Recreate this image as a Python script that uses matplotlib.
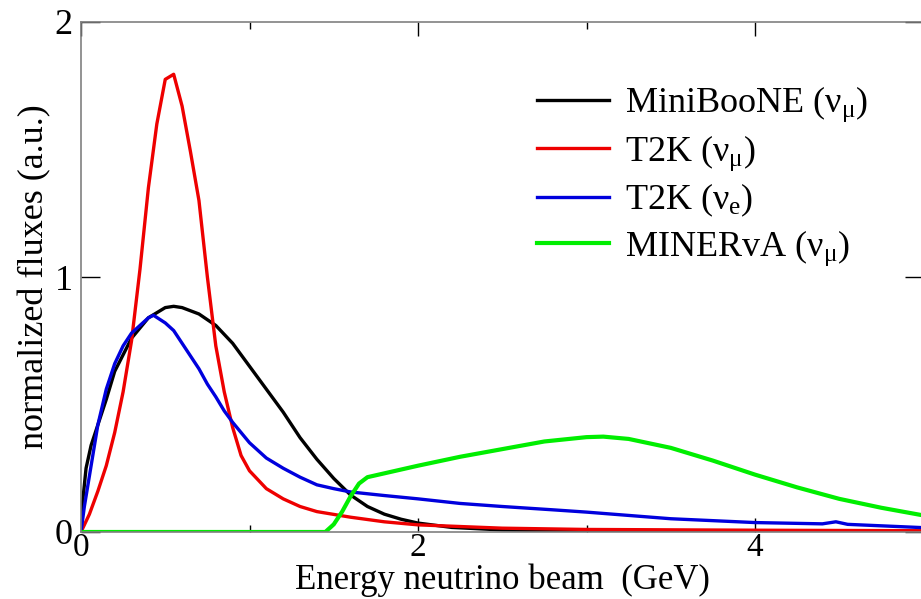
import matplotlib
matplotlib.use("Agg")
import matplotlib.pyplot as plt
from matplotlib.ticker import MultipleLocator

plt.rcParams['font.family'] = ['Liberation Serif', 'DejaVu Serif']
plt.rcParams['mathtext.fontset'] = 'custom'
plt.rcParams['mathtext.rm'] = 'Liberation Serif'
plt.rcParams['mathtext.it'] = 'Liberation Serif:italic'

# MiniBooNE (nu_mu)
mb_E = [0.0, 0.01, 0.03, 0.06, 0.1, 0.15, 0.2, 0.3, 0.4, 0.5, 0.55, 0.6, 0.7, 0.8, 0.9,
        1.0, 1.1, 1.2, 1.3, 1.4, 1.5, 1.6, 1.7, 1.8, 1.9, 2.0, 2.2, 2.5, 3.0, 4.0, 5.0]
mb_F = [0.0, 0.12, 0.25, 0.34, 0.42, 0.52, 0.63, 0.76, 0.84, 0.88, 0.885, 0.88, 0.855, 0.81, 0.74,
        0.65, 0.56, 0.47, 0.37, 0.285, 0.21, 0.145, 0.10, 0.07, 0.05, 0.035, 0.018, 0.008, 0.003, 0.001, 0.0]

# T2K (nu_mu)
t2m_E = [0.0, 0.05, 0.1, 0.15, 0.2, 0.25, 0.3, 0.35, 0.4, 0.45, 0.5, 0.55, 0.6, 0.65, 0.7,
         0.75, 0.8, 0.85, 0.9, 0.95, 1.0, 1.1, 1.2, 1.3, 1.4, 1.6, 1.8, 2.0, 2.5, 3.0, 4.0, 5.0]
t2m_F = [0.0, 0.07, 0.16, 0.26, 0.39, 0.55, 0.75, 1.03, 1.35, 1.60, 1.775, 1.795, 1.67, 1.49, 1.30,
         1.00, 0.73, 0.55, 0.41, 0.30, 0.24, 0.17, 0.13, 0.10, 0.08, 0.058, 0.04, 0.028, 0.015, 0.01, 0.007, 0.005]

# T2K (nu_e)
t2e_E = [0.0, 0.02, 0.05, 0.1, 0.15, 0.2, 0.25, 0.3, 0.35, 0.4, 0.43, 0.5, 0.55, 0.6, 0.65, 0.7,
         0.75, 0.8, 0.85, 0.9, 1.0, 1.1, 1.2, 1.3, 1.4, 1.5, 1.6, 1.8, 2.0, 2.25, 2.5, 2.8, 3.0,
         3.5, 4.0, 4.4, 4.48, 4.55, 5.0]
t2e_F = [0.0, 0.10, 0.22, 0.42, 0.56, 0.66, 0.73, 0.78, 0.81, 0.84, 0.85, 0.82, 0.79, 0.74, 0.69, 0.64,
         0.58, 0.53, 0.475, 0.43, 0.35, 0.29, 0.25, 0.215, 0.185, 0.17, 0.157, 0.143, 0.13, 0.112, 0.10, 0.087, 0.078,
         0.052, 0.037, 0.032, 0.04, 0.03, 0.017]

# MINERvA (nu_mu)
mv_E = [0.0, 1.45, 1.5, 1.55, 1.6, 1.65, 1.7, 1.8, 2.0, 2.25, 2.5, 2.75, 3.0, 3.1, 3.25,
        3.5, 3.75, 4.0, 4.25, 4.5, 4.75, 5.0]
mv_F = [0.0, 0.0, 0.03, 0.08, 0.14, 0.19, 0.215, 0.23, 0.26, 0.295, 0.325, 0.355, 0.372, 0.374, 0.365,
        0.33, 0.28, 0.225, 0.175, 0.13, 0.095, 0.065]

fig = plt.figure(figsize=(9.21, 5.99), dpi=100)
ax = fig.add_axes([81/921, 1 - 532/599, 842.5/921, 510/599])

ax.plot(mb_E, mb_F, color='black', lw=2.4, label=r'MiniBooNE ($\mathrm{\nu_{\mu}}$)')
ax.plot(t2m_E, t2m_F, color='#ee0000', lw=2.4, label=r'T2K ($\mathrm{\nu_{\mu}}$)')
ax.plot(t2e_E, t2e_F, color='#0000dd', lw=2.4, label=r'T2K ($\mathrm{\nu_{e}}$)')
ax.plot(mv_E, mv_F, color='#00ee00', lw=3.0, label=r'MINERvA ($\mathrm{\nu_{\mu}}$)')

ax.set_xlim(0, 5)
ax.set_ylim(0, 2)
ax.xaxis.set_major_locator(MultipleLocator(2))
ax.xaxis.set_minor_locator(MultipleLocator(1))
ax.yaxis.set_major_locator(MultipleLocator(1))
ax.tick_params(axis='both', which='both', direction='in', top=True, right=True,
               color='black', width=1)
ax.tick_params(axis='y', labelsize=26)
ax.tick_params(axis='x', labelsize=24)
ax.tick_params(axis='x', which='major', length=10, pad=0.5)
ax.tick_params(axis='x', which='minor', length=5)
ax.tick_params(axis='y', which='major', length=14, pad=6)
for s in ax.spines.values():
    s.set_color('#808080')
    s.set_linewidth(1.2)

ax.set_xlabel('Energy neutrino beam  (GeV)', fontsize=25, labelpad=0)
ax.set_ylabel('normalized fluxes (a.u.)', fontsize=26, labelpad=2)

leg = ax.legend(loc='upper left', bbox_to_anchor=(0.524, 0.905), frameon=False, fontsize=26,
                handlelength=2.0, handletextpad=0.45, labelspacing=0.25, borderaxespad=0)

fig.savefig('out.png', dpi=100)
